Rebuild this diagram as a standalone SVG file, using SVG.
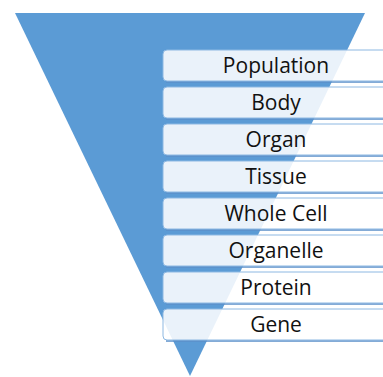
<svg xmlns="http://www.w3.org/2000/svg" width="383" height="377" viewBox="0 0 383 377">
<style>
.box{fill:#ffffff;fill-opacity:0.87;stroke:#8DB8E2;stroke-width:1}
.shadow{fill:none;stroke:#5B8FC9;stroke-width:1.5}
.lbl{font-family:"Open Sans","Liberation Sans",Arial,sans-serif;font-size:21px;fill:#111;text-anchor:middle}
</style>
<polygon id="funnel" points="15,13 365,13 190,376" fill="#5B9BD5"/>
<g id="levels">
<g id="population"><line class="shadow" x1="166" y1="82" x2="383" y2="82"/><rect class="box" x="163" y="50" width="240" height="31" rx="4"/><text class="lbl" x="276" y="73">Population</text></g>
<g id="body"><line class="shadow" x1="166" y1="119" x2="383" y2="119"/><rect class="box" x="163" y="87" width="240" height="31" rx="4"/><text class="lbl" x="276" y="110">Body</text></g>
<g id="organ"><line class="shadow" x1="166" y1="156" x2="383" y2="156"/><rect class="box" x="163" y="124" width="240" height="31" rx="4"/><text class="lbl" x="276" y="147">Organ</text></g>
<g id="tissue"><line class="shadow" x1="166" y1="193" x2="383" y2="193"/><rect class="box" x="163" y="161" width="240" height="31" rx="4"/><text class="lbl" x="276" y="184">Tissue</text></g>
<g id="wholecell"><line class="shadow" x1="166" y1="230" x2="383" y2="230"/><rect class="box" x="163" y="198" width="240" height="31" rx="4"/><text class="lbl" x="276" y="221">Whole Cell</text></g>
<g id="organelle"><line class="shadow" x1="166" y1="267" x2="383" y2="267"/><rect class="box" x="163" y="235" width="240" height="31" rx="4"/><text class="lbl" x="276" y="258">Organelle</text></g>
<g id="protein"><line class="shadow" x1="166" y1="304" x2="383" y2="304"/><rect class="box" x="163" y="272" width="240" height="31" rx="4"/><text class="lbl" x="276" y="295">Protein</text></g>
<g id="gene"><line class="shadow" x1="166" y1="341" x2="383" y2="341"/><rect class="box" x="163" y="309" width="240" height="31" rx="4"/><text class="lbl" x="276" y="332">Gene</text></g>
</g>
</svg>
